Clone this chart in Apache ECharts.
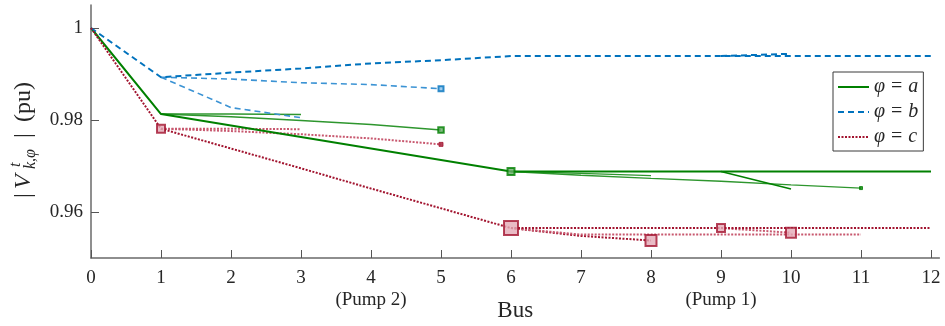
<!DOCTYPE html>
<html>
<head>
<meta charset="utf-8">
<script src="https://cdn.jsdelivr.net/npm/echarts@6/dist/echarts.min.js"></script>
<style>
html,body{margin:0;padding:0;background:#fff;}
#chart{width:945px;height:326px;}
</style>
</head>
<body>
<div id="chart"></div>
<script>
// ---------- data ----------
const busTicks = [0,1,2,3,4,5,6,7,8,9,10,11,12];
const pumpLabels = {4: '(Pump 2)', 9: '(Pump 1)'};
const yTicks = [0.96, 0.98, 1];

// phase a (start bus, values)
const aMain     = [1.0000,0.9813,0.9788,0.9763,0.9738,0.9713,0.9688,0.9688,0.9688,0.9688,0.9688,0.9688,0.9688]; // bus 0..12
const aBr1to3   = [0.9813,0.9813,0.9812];                    // bus 1..3
const aBr1to5   = [0.9813,0.9807,0.9799,0.9790,0.9778];      // bus 1..5
const aBr6to8   = [0.9688,0.9684,0.9679];                    // bus 6..8
const aBr6to11  = [0.9688,0.9680,0.9673,0.9667,0.9659,0.9652]; // bus 6..11
const aBr9to10  = [0.9688,0.9650];                           // bus 9..10

// phase b
const bMain     = [1.0000,0.9893,0.9903,0.9912,0.9923,0.9930,0.9939,0.9939,0.9939,0.9939,0.9939,0.9939,0.9939];
const bBr1to5   = [0.9893,0.9889,0.9881,0.9877,0.9868];
const bBr1to3   = [0.9893,0.9827,0.9805];
const bBr9to10  = [0.9939,0.9944];

// phase c
const cMain     = [1.0000,0.9781,0.9738,0.9695,0.9651,0.9608,0.9565,0.9565,0.9565,0.9565,0.9565,0.9565,0.9565];
const cBr1to3   = [0.9781,0.9781,0.9780];
const cBr1to5   = [0.9781,0.9776,0.9769,0.9760,0.9747];
const cBr6to8   = [0.9565,0.9548,0.9538];
const cBr6to11  = [0.9565,0.9551,0.9551,0.9551,0.9551,0.9551];
const cBr9to10  = [0.9565,0.9555];

// square markers [bus, value]
const aMarkers = [[5,0.9778],[6,0.9688],[11,0.9652]];
const bMarkers = [[5,0.9868]];
const cMarkers = [[1,0.9781],[5,0.9747],[6,0.9565],[8,0.9538],[9,0.9565],[10,0.9555]];

// ---------- styles ----------
const FONT = '"Liberation Serif","DejaVu Serif",serif';
const TXT = '#262626';
const GREEN = '#008000', GREEN_L = '#2e962e';
const BLUE = '#0072BD', BLUE_L = '#3b93d4';
const RED = '#A2142F', RED_L = '#c8586f';
const aMarkerSize = [5.5, 7, 3];
const bMarkerSize = [5];
const cMarkerSize = [8, 4, 14, 11, 8, 10];

function path(start, vals){ return vals.map((v,i)=>[start+i, v]); }
function line(name, start, vals, color, width, type, z){
  return {type:'line', name:name, data:path(start, vals), symbol:'none', silent:true,
    lineStyle:{color:color, width:width, type:type}, itemStyle:{color:color}, z:z||2, animation:false};
}
const DASH = [6,4], DOT = [2,1.5];

const series = [
  line('a', 0, aMain, GREEN, 2, 'solid', 3),
  line('b', 0, bMain, BLUE, 2, DASH, 3),
  line('c', 0, cMain, RED, 2, DOT, 3),
  line('a', 1, aBr1to3, GREEN_L, 1.5, 'solid'),
  line('a', 1, aBr1to5, GREEN_L, 1.5, 'solid'),
  line('a', 6, aBr6to8, GREEN_L, 1.4, 'solid'),
  line('a', 6, aBr6to11, GREEN_L, 1.4, 'solid'),
  line('a', 9, aBr9to10, GREEN, 1.4, 'solid'),
  line('b', 1, bBr1to5, BLUE_L, 1.6, DASH),
  line('b', 1, bBr1to3, BLUE_L, 1.6, DASH),
  line('b', 9, bBr9to10, BLUE, 2, DASH),
  line('c', 1, cBr1to3, RED_L, 2, DOT),
  line('c', 1, cBr1to5, RED_L, 2, DOT),
  line('c', 6, cBr6to8, RED, 2, DOT),
  line('c', 6, cBr6to11, RED_L, 2, DOT),
  line('c', 9, cBr9to10, RED_L, 2, DOT),
];
function markers(name, pts, sizes, border, fill){
  return {type:'scatter', name:name, silent:true, animation:false, z:5, symbol:'rect',
    data: pts.map((p,i)=>({value:p, symbolSize:sizes[i],
      itemStyle:{color: sizes[i] <= 4 ? border : fill, borderColor:border, borderWidth: sizes[i] <= 4 ? 1 : 2}}))};
}
series.push(markers('ma', aMarkers, aMarkerSize, GREEN, '#6cae6c'));
series.push(markers('mb', bMarkers, bMarkerSize, BLUE, '#8cc2ea'));
series.push(markers('mc', cMarkers, cMarkerSize, RED, '#e3aab6'));

const chart = echarts.init(document.getElementById('chart'), null, {renderer:'canvas'});
chart.setOption({
  animation:false,
  backgroundColor:'#fff',
  grid:{left:91, right:5.6, top:5, bottom:68, containLabel:false, outerBoundsMode:'none'},
  xAxis:{type:'value', min:0, max:12.12,
    name:'Bus', nameLocation:'middle', nameGap:41, nameMoveOverlap:false,
    nameTextStyle:{fontFamily:FONT, fontSize:23, color:TXT, verticalAlign:'top'},
    axisLine:{show:true, lineStyle:{color:'#6a6a6a', width:1.5}},
    axisTick:{show:true, inside:true, length:8, customValues:busTicks, lineStyle:{color:'#555', width:1}},
    axisLabel:{customValues:busTicks, margin:9,
      formatter: v => pumpLabels[v] ? '{t|'+v+'}\n{p|'+pumpLabels[v]+'}' : '{t|'+v+'}',
      rich:{t:{fontFamily:FONT, fontSize:19, lineHeight:22, color:TXT},
            p:{fontFamily:FONT, fontSize:19, lineHeight:22, color:TXT}}},
    splitLine:{show:false}},
  yAxis:{type:'value', min:0.95, max:1.005,
    axisLine:{show:true, lineStyle:{color:'#6a6a6a', width:1.5}},
    axisTick:{show:true, inside:true, length:8, customValues:yTicks, lineStyle:{color:'#555', width:1}},
    axisLabel:{customValues:yTicks, margin:8, fontFamily:FONT, fontSize:19, color:TXT,
      formatter: v => (Math.abs(v-1)<1e-9 ? '1' : v.toFixed(2))},
    splitLine:{show:false}},
  legend:{data:['a','b','c'], orient:'vertical', left:833, top:72,
    padding:[5,5,4,4], itemGap:5, itemWidth:31, itemHeight:14,
    backgroundColor:'#fff', borderColor:'#3a3a3a', borderWidth:1, borderRadius:0,
    selectedMode:false,
    itemStyle:{color:'rgba(0,0,0,0)', borderColor:'rgba(0,0,0,0)', borderWidth:0},
    formatter: n => '{i|φ}{e|=}{i|'+n+'}',
    textStyle:{fontFamily:FONT, fontSize:20, color:TXT,
      rich:{i:{fontFamily:FONT, fontSize:20, fontStyle:'italic', color:TXT},
            e:{fontFamily:FONT, fontSize:20, color:TXT, padding:[0,6,0,6]}}}},
  graphic:[
    {type:'group', x:23.5, y:198, rotation:Math.PI/2, silent:true, children:[
      {type:'text', x:0,  y:0, style:{text:'|', font:'24px '+FONT, fill:TXT, verticalAlign:'middle'}},
      {type:'text', x:9,  y:0, style:{text:'V', font:'italic 24px '+FONT, fill:TXT, verticalAlign:'middle'}},
      {type:'text', x:31, y:-8, style:{text:'t', font:'italic 16px '+FONT, fill:TXT, verticalAlign:'middle'}},
      {type:'text', x:29, y:7, style:{text:'k,φ', font:'italic 16px '+FONT, fill:TXT, verticalAlign:'middle'}},
      {type:'text', x:60, y:0, style:{text:'|', font:'24px '+FONT, fill:TXT, verticalAlign:'middle'}},
      {type:'text', x:76, y:0, style:{text:'(pu)', font:'24px '+FONT, fill:TXT, verticalAlign:'middle'}}
    ]}
  ],
  series: series
});
</script>
</body>
</html>
